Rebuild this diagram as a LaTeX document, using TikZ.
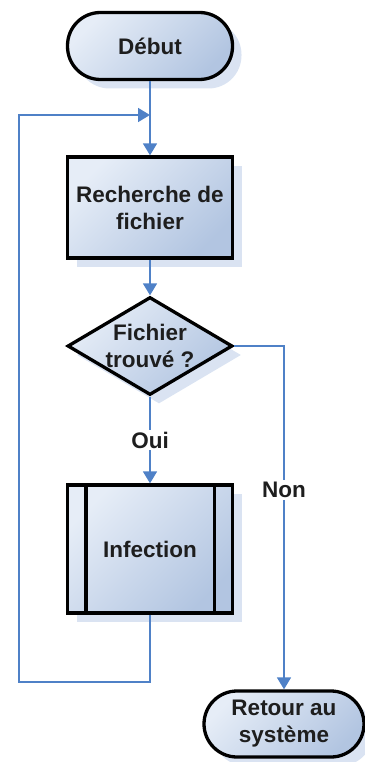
\documentclass[tikz,border=0pt]{standalone}
\usepackage{fontspec}
\setmainfont{Liberation Sans}
\usetikzlibrary{arrows.meta,shapes.geometric,shadows,calc}
\definecolor{haut}{RGB}{230,237,247}
\definecolor{bas}{RGB}{178,197,225}
\definecolor{ombre}{RGB}{218,227,242}
\definecolor{lien}{RGB}{79,129,199}
\definecolor{texte}{RGB}{30,30,30}
\newcommand{\gras}{\bfseries\fontsize{22.5}{27}\selectfont}

\begin{document}
\begin{tikzpicture}[x=1pt,y=-1pt,
  boite/.style={draw=black,line width=3.3pt,top color=haut,bottom color=bas,shading angle=45,
    font=\gras,text=texte,align=center,
    drop shadow={shadow xshift=9pt,shadow yshift=-9pt,fill=ombre,draw=none,opacity=1}},
  terminal/.style={boite,rectangle,rounded corners=33pt,minimum width=165pt,minimum height=67pt,inner sep=0pt},
  traitement/.style={boite,rectangle,minimum width=165pt,minimum height=101pt,inner sep=0pt},
  decision/.style={boite,diamond,shape aspect=1.68,inner sep=-4pt,minimum width=165pt,minimum height=98pt},
  lienfleche/.style={draw=lien,line width=1.6pt,-{Triangle[length=12pt,width=14pt]}},
  etiquette/.style={fill=white,font=\gras,text=texte,inner sep=2pt}]
\useasboundingbox (0,0) rectangle (364,762);

\node[terminal] (debut) at (150,46) {Début};
\node[traitement] (recherche) at (150,207.5) {Recherche de\\fichier};
\node[decision] (test) at (150,346) {Fichier\\trouvé ?};
\node[traitement,minimum height=128pt] (infection) at (150,549) {Infection};
\draw[line width=3.3pt] ([xshift=20pt]infection.north west) -- ([xshift=20pt]infection.south west);
\draw[line width=3.3pt] ([xshift=-20pt]infection.north east) -- ([xshift=-20pt]infection.south east);
\node[terminal,minimum width=160pt,minimum height=66pt] (retour) at (284,724) {Retour au\\système};

\coordinate (entree) at (150,115);
\coordinate (coinbas) at (19,682);

\draw[lienfleche] (debut) -- (recherche);
\draw[lienfleche] (recherche) -- (test);
\draw[lienfleche] (test) -- node[etiquette] (oui) {Oui} (infection);
\draw[lienfleche] (test.east) -| node[etiquette,pos=0.71] (non) {Non} (retour.north);
\draw[lienfleche] (infection.south) |- (coinbas) |- (entree);
\end{tikzpicture}
\end{document}
